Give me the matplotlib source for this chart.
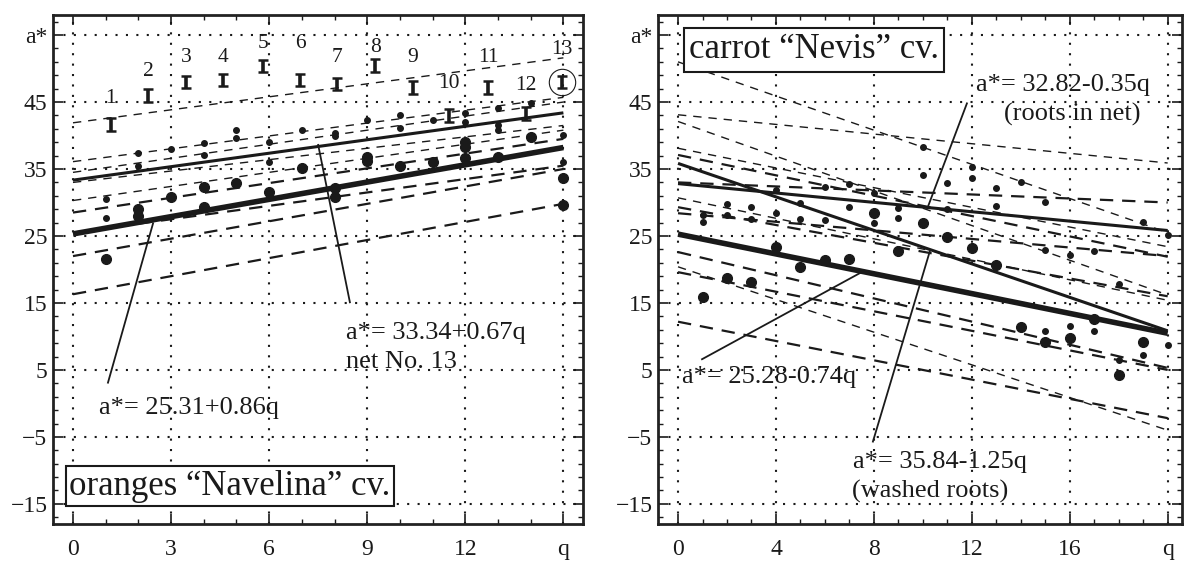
import numpy as np
import matplotlib.pyplot as plt
from matplotlib.ticker import FixedLocator, MultipleLocator

plt.rcParams['font.family'] = ['Liberation Serif', 'DejaVu Serif']
INK = '#1a1a1a'

# ---------------- oranges "Navelina" cv. ----------------
orange_fit_a0 = [25.31, 33.34]
orange_fit_b = [0.86, 0.67]
orange_dash_start = [41.9, 36.1, 34.5, 33.0, 30.3, 28.5, 25.5, 22.0, 16.3]
orange_dash_end = [51.6, 45.7, 45.0, 41.5, 40.8, 39.5, 35.5, 35.0, 29.8]
orange_dash_kind = ['s', 's', 's', 's', 's', 'l', 'l', 'l', 'l']

net_no = ['1', '2', '3', '4', '5', '6', '7', '8', '9', '10', '11', '12', '13']
net_q = [1.16, 2.3, 3.45, 4.6, 5.8, 6.95, 8.08, 9.24, 10.4, 11.5, 12.7, 13.85, 14.95]
net_a = [41.6, 46.0, 48.0, 48.3, 50.4, 48.3, 47.7, 50.5, 47.2, 43.0, 47.2, 43.3, 48.0]
net_label_a = [45.6, 49.5, 51.6, 51.6, 53.7, 53.7, 51.7, 53.2, 51.7, 47.8, 51.7, 47.5, 52.8]

orange_small_q = [1, 1, 2, 2, 3, 4, 4, 5, 5, 6, 6, 7, 8, 8, 9, 10, 10, 11, 12, 12,
                  13, 13, 13, 14, 15, 15]
orange_small_a = [30.5, 27.7, 37.4, 35.4, 38.0, 38.9, 37.1, 40.8, 39.7, 39.0, 36.0,
                  40.8, 40.4, 39.9, 42.3, 43.1, 41.1, 42.3, 43.4, 42.0, 44.1, 41.6,
                  40.8, 44.8, 40.1, 36.0]
orange_big_q = [1, 2, 2, 3, 4, 4, 5, 6, 7, 8, 8, 9, 9, 10, 11, 12, 12, 12, 13, 14, 15, 15]
orange_big_a = [21.6, 29.0, 28.0, 30.8, 32.3, 29.3, 32.9, 31.6, 35.2, 32.1, 30.8, 36.8,
                36.2, 35.4, 36.1, 39.1, 38.3, 36.7, 36.8, 39.8, 33.7, 29.7]

# ---------------- carrot "Nevis" cv. ----------------
carrot_fit_a0 = [25.28, 35.84, 32.82]
carrot_fit_b = [-0.74, -1.25, -0.35]
carrot_dash_start = [51.0, 43.1, 42.1, 38.1, 37.1, 33.0, 30.7, 29.3, 28.4, 22.6, 20.4, 19.6, 12.2]
carrot_dash_end = [25.5, 35.9, 16.2, 23.4, 21.9, 30.0, 15.4, 16.0, 22.0, 5.3, -4.0, 5.0, -2.2]
carrot_dash_kind = ['s', 's', 's', 's', 'l', 'l', 's', 'l', 'l', 'l', 's', 'l', 'l']

carrot_small_q = [1, 1, 2, 2, 3, 3, 4, 4, 5, 5, 6, 6, 7, 7, 8, 8, 9, 9, 10, 10, 11, 11,
                  12, 12, 13, 13, 14, 15, 15, 15, 16, 16, 17, 17, 18, 18, 19, 19, 20, 20]
carrot_small_a = [28.2, 27.1, 29.8, 28.2, 29.4, 27.5, 31.9, 28.4, 30.0, 27.5, 32.3, 27.4,
                  32.7, 29.3, 31.4, 26.9, 29.2, 27.7, 38.3, 34.1, 32.9, 29.0, 35.3, 33.6,
                  32.1, 29.5, 33.1, 30.1, 22.9, 10.8, 22.2, 11.6, 22.8, 10.8, 17.8, 6.5,
                  27.1, 7.2, 25.1, 8.7]
carrot_big_q = [1, 2, 3, 4, 5, 6, 7, 8, 9, 10, 11, 12, 13, 14, 15, 16, 17, 18, 19]
carrot_big_a = [15.9, 18.7, 18.1, 23.3, 20.3, 21.4, 21.5, 28.5, 22.8, 27.0, 24.9, 23.2,
                20.7, 11.4, 9.2, 9.8, 12.6, 4.3, 9.2]

y_ticks = [55, 45, 35, 25, 15, 5, -5, -15]
y_labels = ['a*', '45', '35', '25', '15', '5', '\u22125', '\u221215']
orange_x_ticks = [0, 3, 6, 9, 12, 15]
orange_x_labels = ['0', '3', '6', '9', '12', 'q']
carrot_x_ticks = [0, 4, 8, 12, 16, 20]
carrot_x_labels = ['0', '4', '8', '12', '16', 'q']

dash_style = {'s': dict(lw=1.0, dashes=(6, 5)), 'l': dict(lw=1.6, dashes=(6, 4))}
NOTE = 19


def setup_axes(ax, xlim, xticks, xlabels):
    ax.set_xlim(*xlim)
    ax.set_ylim(-18.0, 58.0)
    ax.xaxis.set_major_locator(FixedLocator(xticks))
    ax.xaxis.set_minor_locator(MultipleLocator(1))
    ax.set_xticklabels(xlabels)
    ax.yaxis.set_major_locator(FixedLocator(y_ticks))
    ax.yaxis.set_minor_locator(FixedLocator(np.arange(-17, 58, 2)))
    ax.set_yticklabels(y_labels)
    ax.tick_params(which='both', direction='in', top=True, right=True,
                   colors=INK, labelsize=17)
    ax.tick_params(which='major', length=7, width=1.2)
    ax.tick_params(which='minor', length=3.5, width=1.0)
    ax.tick_params(axis='x', pad=11)
    ax.tick_params(axis='y', pad=4)
    for s in ax.spines.values():
        s.set_linewidth(2.0)
        s.set_color('#222222')
    ax.grid(True, which='major', color=INK, linestyle=(0, (1, 4)), lw=1.5)
    ax.set_axisbelow(True)


fig = plt.figure(figsize=(11.84, 5.61), dpi=100)
axL = fig.add_axes([0.0448, 0.0660, 0.4476, 0.9073])
axR = fig.add_axes([0.5557, 0.0660, 0.4423, 0.9073])

# ---- left panel ----
setup_axes(axL, (-0.61, 15.6), orange_x_ticks, orange_x_labels)
qL = np.array([0, 15])
for s, e, k in zip(orange_dash_start, orange_dash_end, orange_dash_kind):
    axL.plot(qL, [s, e], color=INK, **dash_style[k])
axL.plot(qL, orange_fit_a0[0] + orange_fit_b[0] * qL, color=INK, lw=4.0, solid_capstyle='butt')
axL.plot(qL, orange_fit_a0[1] + orange_fit_b[1] * qL, color=INK, lw=2.2, solid_capstyle='butt')
axL.plot(orange_small_q, orange_small_a, 'o', color=INK, ms=4)
axL.plot(orange_big_q, orange_big_a, 'o', color=INK, ms=7)
axL.errorbar(net_q, net_a, yerr=0.95, fmt='none', ecolor=INK, elinewidth=2.6,
             capsize=3.5, capthick=1.8)
for n, q, a in zip(net_no, net_q, net_label_a):
    axL.text(q, a, n, ha='center', va='center', fontsize=15.5, color=INK)
axL.plot([net_q[-1]], [net_a[-1]], 'o', mfc='none', mec=INK, ms=19, mew=0.8)

axL.plot([1.07, 2.45], [3.1, 26.9], color=INK, lw=1.3)
axL.plot([8.47, 7.5], [15.1, 38.6], color=INK, lw=1.3)
axL.text(0.8, -0.7, 'a*= 25.31+0.86q', fontsize=NOTE, ha='left', va='center', color=INK)
axL.text(8.35, 10.5, 'a*= 33.34+0.67q', fontsize=NOTE, ha='left', va='center', color=INK)
axL.text(8.35, 6.2, 'net No. 13', fontsize=NOTE, ha='left', va='center', color=INK)
axL.text(-0.12, -12.4, 'oranges \u201cNavelina\u201d cv.', fontsize=25, ha='left',
         va='center', color=INK, zorder=5,
         bbox=dict(boxstyle='square,pad=0.1', fc='white', ec=INK, lw=1.5))

# ---- right panel ----
setup_axes(axR, (-0.82, 20.57), carrot_x_ticks, carrot_x_labels)
qR = np.array([0, 20])
for s, e, k in zip(carrot_dash_start, carrot_dash_end, carrot_dash_kind):
    axR.plot(qR, [s, e], color=INK, **dash_style[k])
axR.plot(qR, carrot_fit_a0[0] + carrot_fit_b[0] * qR, color=INK, lw=4.0, solid_capstyle='butt')
axR.plot(qR, carrot_fit_a0[1] + carrot_fit_b[1] * qR, color=INK, lw=2.2, solid_capstyle='butt')
axR.plot(qR, carrot_fit_a0[2] + carrot_fit_b[2] * qR, color=INK, lw=2.2, solid_capstyle='butt')
axR.plot(carrot_small_q, carrot_small_a, 'o', color=INK, ms=4)
axR.plot(carrot_big_q, carrot_big_a, 'o', color=INK, ms=7)

axR.plot([11.8, 10.2], [44.8, 29.3], color=INK, lw=1.3)
axR.plot([0.98, 7.55], [6.6, 19.7], color=INK, lw=1.3)
axR.plot([7.96, 10.3], [-5.7, 22.9], color=INK, lw=1.3)
axR.text(12.16, 47.5, 'a*= 32.82-0.35q', fontsize=NOTE, ha='left', va='center', color=INK)
axR.text(16.1, 43.1, '(roots in net)', fontsize=NOTE, ha='center', va='center', color=INK)
axR.text(0.16, 4.0, 'a*= 25.28-0.74q', fontsize=NOTE, ha='left', va='center', color=INK)
axR.text(7.14, -8.7, 'a*= 35.84-1.25q', fontsize=NOTE, ha='left', va='center', color=INK)
axR.text(7.1, -13.2, '(washed roots)', fontsize=NOTE, ha='left', va='center', color=INK)
axR.text(0.45, 52.8, 'carrot \u201cNevis\u201d cv.', fontsize=25, ha='left',
         va='center', color=INK, zorder=5,
         bbox=dict(boxstyle='square,pad=0.15', fc='white', ec=INK, lw=1.5))

fig.savefig('out.png', dpi=100)
